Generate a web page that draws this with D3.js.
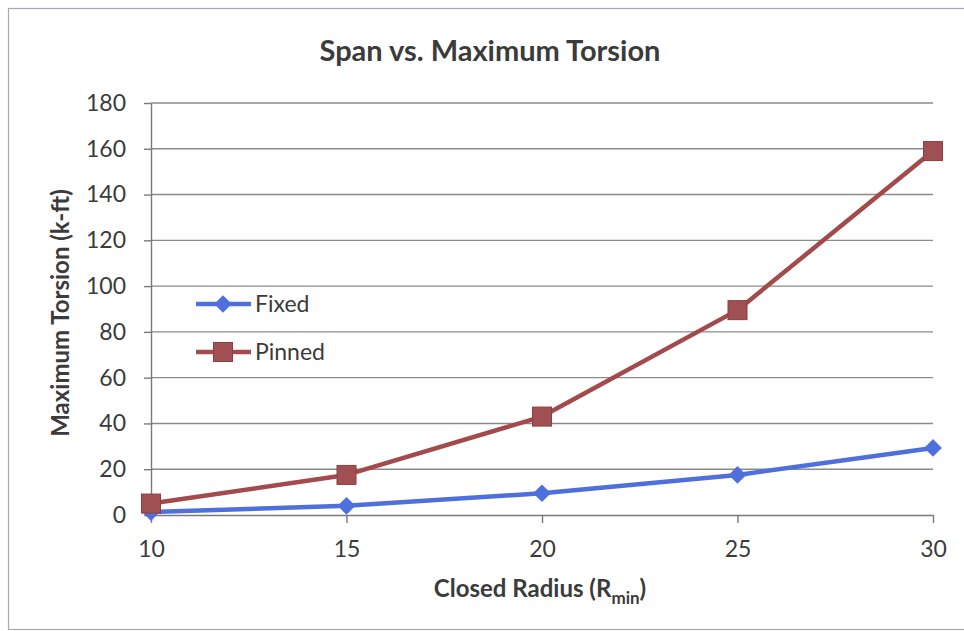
<!DOCTYPE html>
<html>
<head>
<meta charset="utf-8">
<script src="https://cdn.jsdelivr.net/npm/d3@7"></script>
<style>
  body { margin: 0; background: #fff; }
  svg { display: block; font-family: Lato, "Open Sans", sans-serif; }
</style>
</head>
<body>
<svg id="chart" width="964" height="631"></svg>
<script>
// Closed radius values along the x axis
const radii = [10, 15, 20, 25, 30];
// Maximum torsion (k-ft) for each end condition
const fixedTorsion = [1.3, 4, 9.5, 17.5, 29.3];
const pinnedTorsion = [5, 17.5, 43, 89.5, 159];
const yTicks = [0, 20, 40, 60, 80, 100, 120, 140, 160, 180];
const xTicks = [10, 15, 20, 25, 30];

const series = [
  { name: "Fixed", values: fixedTorsion, color: "#4f6fdc", marker: "diamond" },
  { name: "Pinned", values: pinnedTorsion, color: "#a24a4c", marker: "square" }
];

const svg = d3.select("#chart");
const plot = { left: 151, right: 933, top: 103, bottom: 515 };
const textColor = "#3b3b3b";

const x = d3.scaleLinear().domain([10, 30]).range([plot.left, plot.right]);
const y = d3.scaleLinear().domain([0, 180]).range([plot.bottom, plot.top]);

// Outer chart frame
svg.append("rect")
  .attr("x", 8.5).attr("y", 8.5).attr("width", 970).attr("height", 621)
  .attr("fill", "none").attr("stroke", "#a8a8b4").attr("stroke-width", 1.2);

// Title
svg.append("text")
  .attr("x", 490).attr("y", 61)
  .attr("text-anchor", "middle")
  .attr("font-size", 29).attr("font-weight", "bold").attr("fill", textColor)
  .text("Span vs. Maximum Torsion");

// Horizontal gridlines
svg.append("g")
  .selectAll("line")
  .data(yTicks.filter(d => d > 0))
  .join("line")
  .attr("x1", plot.left).attr("x2", plot.right)
  .attr("y1", d => y(d)).attr("y2", d => y(d))
  .attr("stroke", "#8a8a8a").attr("stroke-width", 1.4);

// Y axis
const yAxis = svg.append("g")
  .attr("transform", `translate(${plot.left},0)`)
  .call(d3.axisLeft(y).tickValues(yTicks).tickSize(7).tickPadding(18).tickSizeOuter(0));
yAxis.select(".domain").attr("stroke", "#7a7a7a").attr("stroke-width", 1.4);
yAxis.selectAll(".tick line").attr("stroke", "#7a7a7a").attr("stroke-width", 1.4);
yAxis.selectAll(".tick text")
  .attr("font-size", 23).attr("fill", textColor)
  .attr("font-family", "Lato, 'Open Sans', sans-serif");

// X axis
const xAxis = svg.append("g")
  .attr("transform", `translate(0,${plot.bottom})`)
  .call(d3.axisBottom(x).tickValues(xTicks).tickSize(8).tickPadding(18).tickSizeOuter(0));
xAxis.select(".domain").attr("stroke", "#7a7a7a").attr("stroke-width", 1.4);
xAxis.selectAll(".tick line").attr("stroke", "#7a7a7a").attr("stroke-width", 1.4);
xAxis.selectAll(".tick text")
  .attr("font-size", 23).attr("fill", textColor)
  .attr("font-family", "Lato, 'Open Sans', sans-serif");

// Axis titles
svg.append("text")
  .attr("transform", "translate(69,313) rotate(-90)")
  .attr("text-anchor", "middle")
  .attr("font-size", 24).attr("font-weight", "bold").attr("fill", textColor)
  .text("Maximum Torsion (k-ft)");

const xTitle = svg.append("text")
  .attr("x", 540).attr("y", 597)
  .attr("text-anchor", "middle")
  .attr("font-size", 24).attr("font-weight", "bold").attr("fill", textColor);
xTitle.append("tspan").text("Closed Radius (R");
xTitle.append("tspan").attr("font-size", 17).attr("dy", 7).text("min");
xTitle.append("tspan").attr("dy", -7).text(")");

const line = d3.line().x((d, i) => x(radii[i])).y(d => y(d));

function drawMarker(g, type, cx, cy, color) {
  if (type === "diamond") {
    g.append("path")
      .attr("d", d3.symbol(d3.symbolDiamond2, 200)())
      .attr("transform", `translate(${cx},${cy})`)
      .attr("fill", color);
  } else {
    g.append("rect")
      .attr("x", cx - 9.5).attr("y", cy - 9.5).attr("width", 19).attr("height", 19)
      .attr("fill", "#a05052").attr("stroke", "#8e3e40").attr("stroke-width", 1);
  }
}

series.forEach(s => {
  const g = svg.append("g");
  g.append("path")
    .datum(s.values)
    .attr("d", line)
    .attr("fill", "none")
    .attr("stroke", s.color)
    .attr("stroke-width", 4.5)
    .attr("stroke-linejoin", "round");
  s.values.forEach((v, i) => drawMarker(g, s.marker, x(radii[i]), y(v), s.color));
});

// Legend
const legend = svg.append("g");
series.forEach((s, i) => {
  const ly = 304 + i * 48;
  legend.append("line")
    .attr("x1", 196).attr("x2", 251).attr("y1", ly).attr("y2", ly)
    .attr("stroke", s.color).attr("stroke-width", 4.5);
  drawMarker(legend, s.marker, 223, ly, s.color);
  legend.append("text")
    .attr("x", 255).attr("y", ly + 8)
    .attr("font-size", 23).attr("fill", textColor)
    .text(s.name);
});
</script>
</body>
</html>
